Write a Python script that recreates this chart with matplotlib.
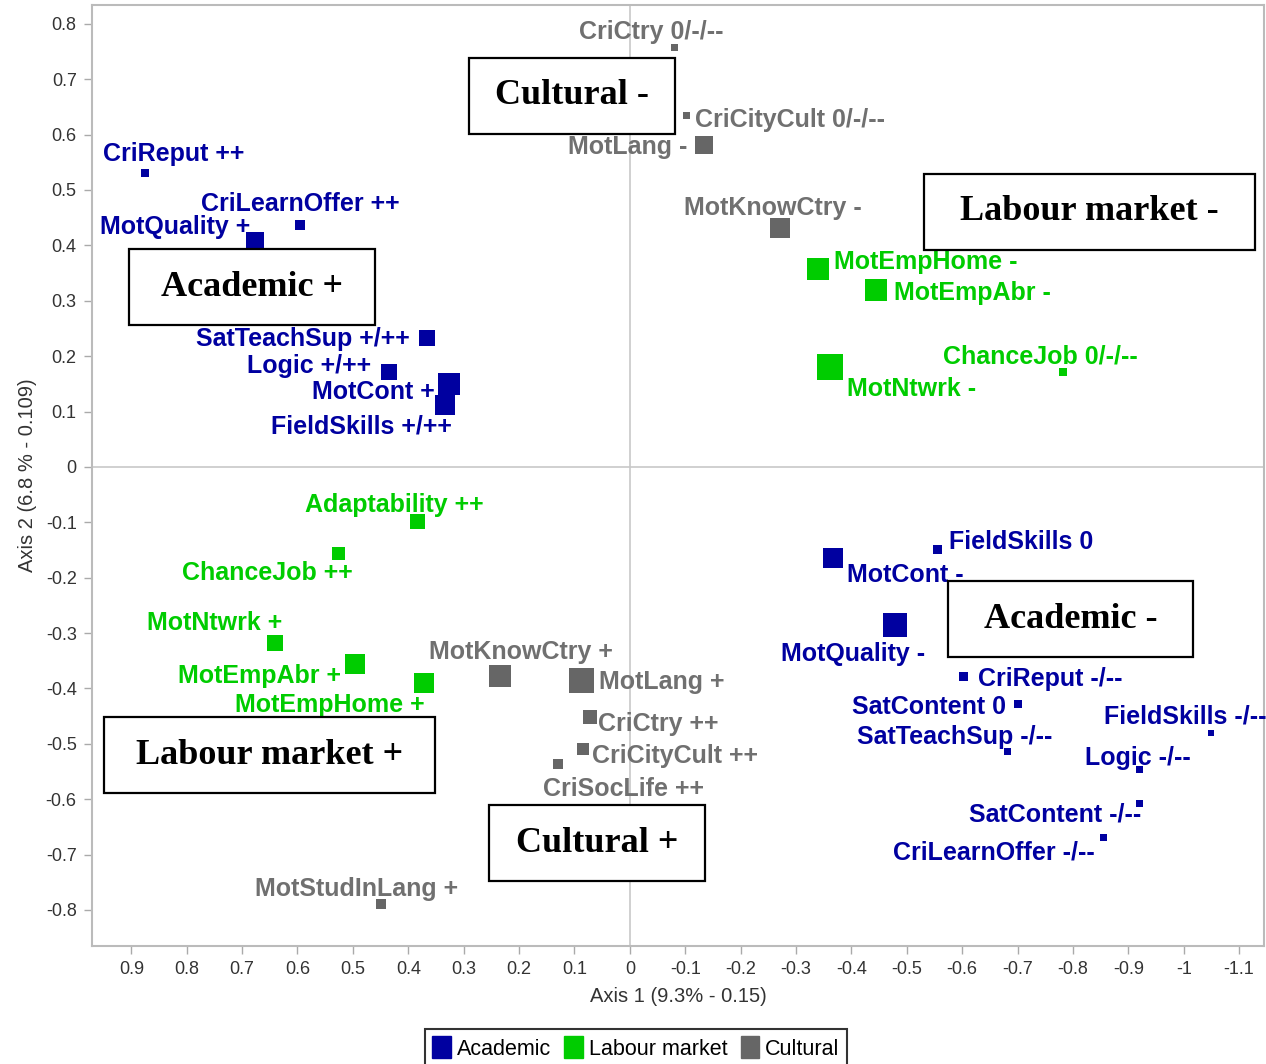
import matplotlib
matplotlib.use("Agg")
import matplotlib.pyplot as plt
from matplotlib.patches import Rectangle, Patch
import numpy as np

# ---------------- data ----------------
acad_labels = ["CriReput ++", "CriLearnOffer ++", "MotQuality +", "SatTeachSup +/++", "Logic +/++",
               "MotCont +", "FieldSkills +/++", "FieldSkills 0", "MotCont -", "MotQuality -",
               "CriReput -/--", "SatContent 0", "SatTeachSup -/--", "FieldSkills -/--", "Logic -/--",
               "SatContent -/--", "CriLearnOffer -/--"]
acad_x = [0.876, 0.596, 0.676, 0.367, 0.434, 0.327, 0.334, -0.555, -0.367, -0.479,
          -0.603, -0.701, -0.681, -1.050, -0.920, -0.920, -0.855]
acad_y = [0.531, 0.437, 0.408, 0.233, 0.172, 0.150, 0.112, -0.150, -0.164, -0.285,
          -0.379, -0.428, -0.513, -0.480, -0.547, -0.607, -0.670]
acad_mass = [8, 10, 18, 16, 16, 22, 20, 9, 20, 24, 9, 8, 7, 6, 7, 7, 7]

lab_labels = ["MotEmpHome -", "MotEmpAbr -", "ChanceJob 0/-/--", "MotNtwrk -", "Adaptability ++",
              "ChanceJob ++", "MotNtwrk +", "MotEmpAbr +", "MotEmpHome +"]
lab_x = [-0.340, -0.444, -0.782, -0.361, 0.383, 0.526, 0.641, 0.497, 0.372]
lab_y = [0.358, 0.320, 0.172, 0.181, -0.098, -0.157, -0.318, -0.356, -0.390]
lab_mass = [22, 22, 8, 26, 15, 13, 16, 20, 20]

cult_labels = ["CriCtry 0/-/--", "CriCityCult 0/-/--", "MotLang -", "MotKnowCtry -", "MotKnowCtry +",
               "MotLang +", "CriCtry ++", "CriCityCult ++", "CriSocLife ++", "MotStudInLang +"]
cult_x = [-0.081, -0.103, -0.134, -0.271, 0.235, 0.087, 0.072, 0.085, 0.130, 0.450]
cult_y = [0.758, 0.634, 0.581, 0.432, -0.377, -0.386, -0.451, -0.509, -0.536, -0.789]
cult_mass = [7, 7, 18, 20, 22, 25, 14, 12, 10, 10]

group_names = ["Academic", "Labour market", "Cultural"]
box_texts = ["Cultural -", "Labour market -", "Academic +", "Academic -", "Labour market +", "Cultural +"]
x_ticks = [0.9, 0.8, 0.7, 0.6, 0.5, 0.4, 0.3, 0.2, 0.1, 0.0, -0.1, -0.2, -0.3, -0.4, -0.5,
           -0.6, -0.7, -0.8, -0.9, -1.0, -1.1]
y_ticks = [0.8, 0.7, 0.6, 0.5, 0.4, 0.3, 0.2, 0.1, 0.0, -0.1, -0.2, -0.3, -0.4, -0.5,
           -0.6, -0.7, -0.8]

# ---------------- layout / style ----------------
W, H = 1266, 1064
colors = ["#0000A0", "#00CC00", "#666666"]
text_colors = ["#0000A0", "#00CC00", "#707070"]

# label offsets in pixels (dx, dy up) from the marker
acad_off = [(29, 21), (1, 23), (-80, 16), (-124, 1), (-80, 8), (-75, -6), (-83, -20), (84, 10),
            (72, -15), (-42, -27), (86, 0), (-89, -1), (-52, 16), (-26, 18), (-2, 14), (-84, -9),
            (-110, -13)]
lab_off = [(108, 9), (97, -1), (-23, 17), (82, -20), (-23, 18), (-71, -17), (-60, 22), (-95, -10),
           (-94, -20)]
cult_off = [(-23, 17), (103, -2), (-76, 0), (-7, 22), (21, 26), (80, 1), (68, -5), (92, -5),
            (66, -23), (-24, 17)]
label_dy_shift = -2

box_rects = [(469, 58, 675, 134), (924, 174, 1255, 250), (129, 249, 375, 325),
             (948, 581, 1193, 657), (104, 717, 435, 793), (489, 805, 705, 881)]

fig = plt.figure(figsize=(W / 100, H / 100), dpi=100)
fig.patch.set_facecolor("white")
ax = fig.add_axes([92 / W, 1 - 946 / H, (1264 - 92) / W, (946 - 5) / H])
ax.set_xlim(0.971, -1.145)
ax.set_ylim(-0.865, 0.834)

ax.axhline(0, color="#c8c8c8", lw=1.2, zorder=1)
ax.axvline(0, color="#c8c8c8", lw=1.2, zorder=1)

groups = [(acad_x, acad_y, acad_mass, acad_labels, acad_off),
          (lab_x, lab_y, lab_mass, lab_labels, lab_off),
          (cult_x, cult_y, cult_mass, cult_labels, cult_off)]

for gi, (xs, ys, ms, labs, offs) in enumerate(groups):
    sizes = [(m * 72 / 100) ** 2 for m in ms]
    ax.scatter(xs, ys, s=sizes, marker="s", color=colors[gi], linewidths=0, zorder=3)
    for x, y, lab, (dx, dy) in zip(xs, ys, labs, offs):
        ax.annotate(lab, (x, y), xytext=(dx, dy + label_dy_shift), textcoords="offset pixels",
                    ha="center", va="center", fontsize=18, fontweight="bold",
                    family="Liberation Sans", color=text_colors[gi], zorder=4,
                    annotation_clip=False)

def fmt(v):
    v = round(v, 2)
    if abs(v) < 1e-9:
        return "0"
    return f"{v:g}"

ax.set_xticks(x_ticks)
ax.set_xticklabels([fmt(v) for v in x_ticks])
ax.set_yticks(y_ticks)
ax.set_yticklabels([fmt(v) for v in y_ticks])
ax.tick_params(direction="out", length=6, width=1, color="#aaaaaa", labelcolor="#333333",
               labelsize=13, pad=5)
for lab in ax.get_xticklabels() + ax.get_yticklabels():
    lab.set_family("Liberation Sans")
for sp in ax.spines.values():
    sp.set_color("#bbbbbb")
    sp.set_linewidth(1.5)

fig.text(678 / W, 1 - 997 / H, "Axis 1 (9.3% - 0.15)", ha="center", va="center",
         fontsize=14.5, family="Liberation Sans", color="#333333")
fig.text(28 / W, 1 - 475 / H, "Axis 2 (6.8 % - 0.109)", ha="center", va="center",
         rotation=90, fontsize=14.5, family="Liberation Sans", color="#333333")

for (x0, y0, x1, y1), t in zip(box_rects, box_texts):
    fig.patches.append(Rectangle((x0 / W, 1 - y1 / H), (x1 - x0) / W, (y1 - y0) / H,
                                 transform=fig.transFigure, facecolor="white",
                                 edgecolor="black", lw=1.6, zorder=5))
    fig.text((x0 + x1) / 2 / W, 1 - (y0 + y1) / 2 / H, t, ha="center", va="center",
             fontsize=26, fontweight="bold", family="Liberation Serif", color="black", zorder=6)

handles = [Patch(facecolor=c, edgecolor=c) for c in colors]
leg = fig.legend(handles, group_names, loc="center", bbox_to_anchor=(636 / W, 1 - 1048 / H),
                 ncol=3, frameon=True, fancybox=False, edgecolor="black", handlelength=0.85,
                 handleheight=1.2, handletextpad=0.3, columnspacing=0.6, borderpad=0.35,
                 prop={"family": "Liberation Sans", "size": 15.5})
leg.get_frame().set_linewidth(1.5)

fig.savefig("out.png", dpi=100)
